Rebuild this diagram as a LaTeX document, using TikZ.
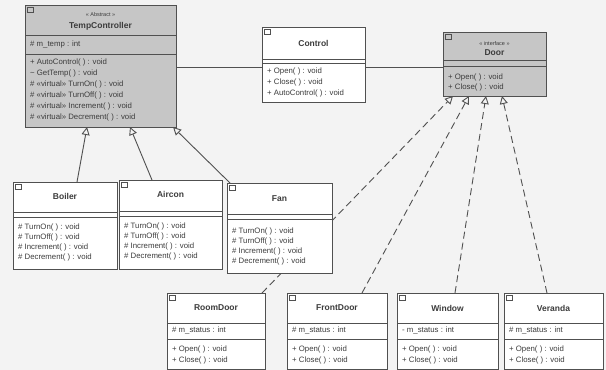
\documentclass[tikz,border=0pt]{standalone}
\usepackage{fontspec}
\setmainfont{Liberation Sans}
\usepackage{tikz}
\usetikzlibrary{arrows.meta,calc,backgrounds}
\definecolor{Umlline}{HTML}{505050}
\definecolor{Umltext}{HTML}{3C3C3C}
\definecolor{Umlgrey}{HTML}{C6C6C6}
\definecolor{Umlpaper}{HTML}{F3F3F3}
\tikzset{
    classbox/.style={draw=Umlline, fill=white, anchor=north west,
        inner sep=0pt, outer sep=0pt, line width=0.9pt},
    absbox/.style={classbox, fill=Umlgrey},
    cname/.style={font=\fontsize{8.5}{9}\selectfont\bfseries, text=Umltext},
    stereo/.style={font=\fontsize{5.5}{6}\selectfont, text=Umltext},
    members/.style={anchor=north west, align=left, inner sep=0pt,
        text=Umltext, font=\fontsize{7.8}{10}\selectfont},
    inherit/.style={draw=Umlline, line width=0.9pt,
        -{Triangle[open, length=8pt, width=8pt]}},
    realize/.style={inherit, dash pattern=on 7pt off 4pt},
    assoc/.style={draw=Umlline, line width=0.9pt}
}
\newcommand{\classicon}[1]{\draw[Umlline, line width=0.5pt] ($(#1.north west)+(2,2)$) rectangle ++(6,5);}
\newcommand{\splitline}[2]{\draw[Umlline, line width=0.7pt] ($(#1.north west)+(0,#2)$) -- ($(#1.north east)+(0,#2)$);}

\begin{document}
\begin{tikzpicture}[x=1pt, y=-1pt]
    \useasboundingbox (0,0) rectangle (606,370);
    % Classes
    \node[absbox, minimum width=151, minimum height=122] (tempctrl) at (25,5) {};
    \node[classbox, minimum width=103, minimum height=75] (control) at (262,27) {};
    \node[absbox, minimum width=103, minimum height=64] (door) at (443,32) {};
    \node[classbox, minimum width=104, minimum height=87] (boiler) at (13,182) {};
    \node[classbox, minimum width=103, minimum height=89] (aircon) at (119,180) {};
    \node[classbox, minimum width=105, minimum height=90] (fan) at (227,183) {};
    \node[classbox, minimum width=98, minimum height=76] (roomdoor) at (167,293) {};
    \node[classbox, minimum width=100, minimum height=76] (frontdoor) at (287,293) {};
    \node[classbox, minimum width=101, minimum height=76] (window) at (397,293) {};
    \node[classbox, minimum width=99, minimum height=76] (veranda) at (504,293) {};
    \classicon{tempctrl} \classicon{control} \classicon{door}
    \classicon{boiler} \classicon{aircon} \classicon{fan}
    \classicon{roomdoor} \classicon{frontdoor} \classicon{window} \classicon{veranda}
    % TempController
    \node[stereo] (tcster) at ($(tempctrl.north)+(0,10)$) {<< Abstract >>};
    \node[cname] (tcname) at ($(tempctrl.north)+(0,21)$) {TempController};
    \splitline{tempctrl}{30}
    \node[members] (tcattr) at ($(tempctrl.north west)+(5,36)$) {\# m\_temp : int};
    \splitline{tempctrl}{49}
    \node[members, font=\fontsize{7.8}{11}\selectfont] (tcops) at ($(tempctrl.north west)+(5,54)$)
        {+ AutoControl( ) : void\\\textasciitilde{} GetTemp( ) : void\\
         \# <<virtual>> TurnOn( ) : void\\\# <<virtual>> TurnOff( ) : void\\
         \# <<virtual>> Increment( ) : void\\\# <<virtual>> Decrement( ) : void};
    % Control
    \node[cname] (ctname) at ($(control.north)+(0,16)$) {Control};
    \splitline{control}{32} \splitline{control}{36}
    \node[members, font=\fontsize{7.8}{11}\selectfont] (ctops) at ($(control.north west)+(5,41)$)
        {+ Open( ) : void\\+ Close( ) : void\\+ AutoControl( ) : void};
    % Door
    \node[stereo] (drster) at ($(door.north)+(0,12)$) {<< interface >>};
    \node[cname] (drname) at ($(door.north)+(0,21)$) {Door};
    \splitline{door}{28} \splitline{door}{34}
    \node[members] (drops) at ($(door.north west)+(5,42)$)
        {+ Open( ) : void\\+ Close( ) : void};
    % Heaters
    \node[cname] (blname) at ($(boiler.north)+(0,14)$) {Boiler};
    \splitline{boiler}{30} \splitline{boiler}{35}
    \node[members] (blops) at ($(boiler.north west)+(5,42)$)
        {\# TurnOn( ) : void\\\# TurnOff( ) : void\\\# Increment( ) : void\\\# Decrement( ) : void};
    \node[cname] (acname) at ($(aircon.north)+(0,14)$) {Aircon};
    \splitline{aircon}{31} \splitline{aircon}{36}
    \node[members] (acops) at ($(aircon.north west)+(5,43)$)
        {\# TurnOn( ) : void\\\# TurnOff( ) : void\\\# Increment( ) : void\\\# Decrement( ) : void};
    \node[cname] (fnname) at ($(fan.north)+(0,16)$) {Fan};
    \splitline{fan}{31} \splitline{fan}{36}
    \node[members] (fnops) at ($(fan.north west)+(5,45)$)
        {\# TurnOn( ) : void\\\# TurnOff( ) : void\\\# Increment( ) : void\\\# Decrement( ) : void};
    % Doors
    \node[cname] (rdname) at ($(roomdoor.north)+(0,15)$) {RoomDoor};
    \splitline{roomdoor}{30}
    \node[members] (rdattr) at ($(roomdoor.north west)+(5,34)$) {\# m\_status : int};
    \splitline{roomdoor}{46}
    \node[members, font=\fontsize{7.8}{11}\selectfont] (rdops) at ($(roomdoor.north west)+(5,53)$)
        {+ Open( ) : void\\+ Close( ) : void};
    \node[cname] (fdname) at ($(frontdoor.north)+(0,15)$) {FrontDoor};
    \splitline{frontdoor}{30}
    \node[members] (fdattr) at ($(frontdoor.north west)+(5,34)$) {\# m\_status : int};
    \splitline{frontdoor}{46}
    \node[members, font=\fontsize{7.8}{11}\selectfont] (fdops) at ($(frontdoor.north west)+(5,53)$)
        {+ Open( ) : void\\+ Close( ) : void};
    \node[cname] (wdname) at ($(window.north)+(0,15)$) {Window};
    \splitline{window}{30}
    \node[members] (wdattr) at ($(window.north west)+(5,34)$) {- m\_status : int};
    \splitline{window}{46}
    \node[members, font=\fontsize{7.8}{11}\selectfont] (wdops) at ($(window.north west)+(5,53)$)
        {+ Open( ) : void\\+ Close( ) : void};
    \node[cname] (vrname) at ($(veranda.north)+(0,15)$) {Veranda};
    \splitline{veranda}{30}
    \node[members] (vrattr) at ($(veranda.north west)+(5,34)$) {\# m\_status : int};
    \splitline{veranda}{46}
    \node[members, font=\fontsize{7.8}{11}\selectfont] (vrops) at ($(veranda.north west)+(5,53)$)
        {+ Open( ) : void\\+ Close( ) : void};
    \begin{scope}[on background layer]
        \fill[Umlpaper] (0,0) rectangle (606,370);
        % Associations
        \coordinate (assoc) at ($(tempctrl.north east)+(0,62)$);
        \draw[assoc] (assoc) -- (assoc -| control.west);
        \draw[assoc] (control.east |- assoc) -- (assoc -| door.west);
        % Generalisation
        \draw[inherit] ($(boiler.north west)+(64,0)$) -- ($(tempctrl.south west)+(62,0)$);
        \draw[inherit] ($(aircon.north west)+(33,0)$) -- ($(tempctrl.south west)+(105,0)$);
        \draw[inherit] ($(fan.north west)+(3,0)$) -- ($(tempctrl.south west)+(148,0)$);
        % Realisation
        \draw[realize] ($(roomdoor.north west)+(95,0)$) -- ($(door.south west)+(10,0)$);
        \draw[realize] ($(frontdoor.north west)+(75,0)$) -- ($(door.south west)+(26,0)$);
        \draw[realize] ($(window.north west)+(58,0)$) -- ($(door.south west)+(43,0)$);
        \draw[realize] ($(veranda.north west)+(43,0)$) -- ($(door.south west)+(59,0)$);
    \end{scope}
\end{tikzpicture}
\end{document}
